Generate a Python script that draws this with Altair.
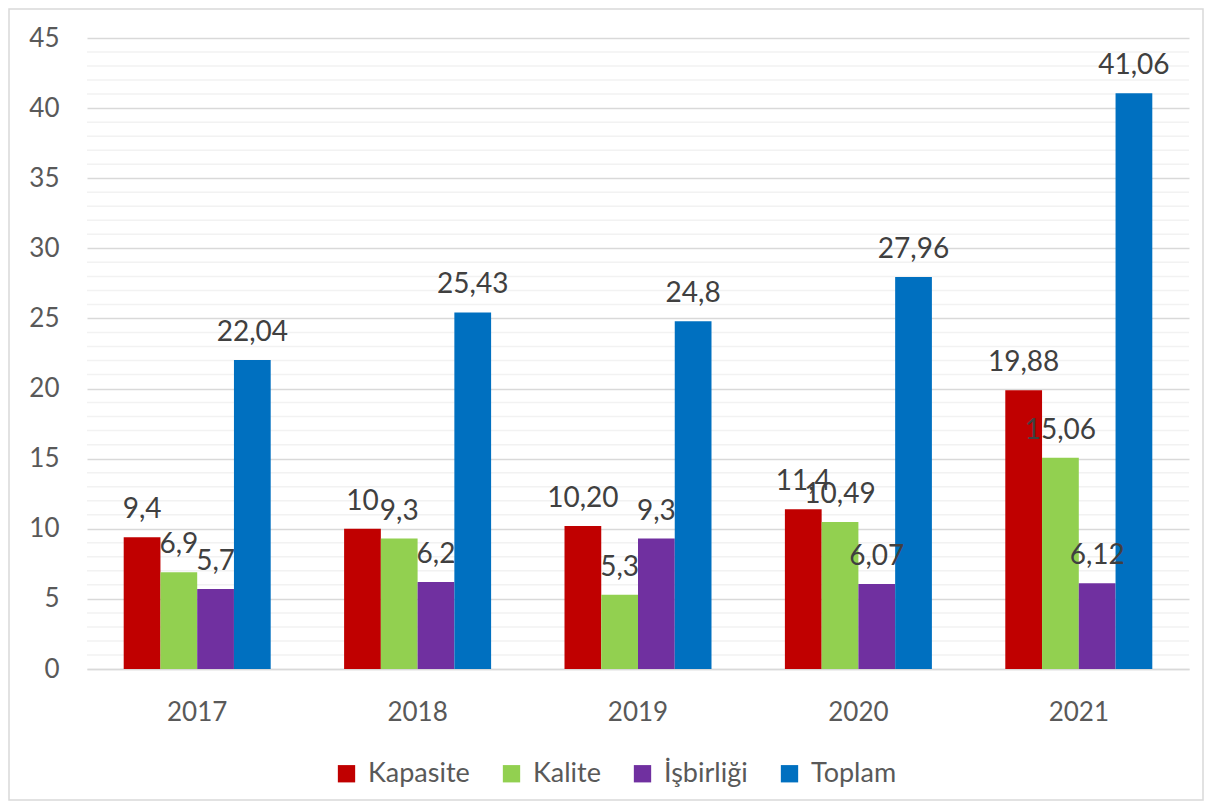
import altair as alt
import pandas as pd

years = ["2017", "2018", "2019", "2020", "2021"]
series = ["Kapasite", "Kalite", "İşbirliği", "Toplam"]
colors = ["#C00000", "#92D050", "#7030A0", "#0070C0"]

kapasite = [9.4, 10, 10.2, 11.4, 19.88]
kalite = [6.9, 9.3, 5.3, 10.49, 15.06]
isbirligi = [5.7, 6.2, 9.3, 6.07, 6.12]
toplam = [22.04, 25.43, 24.8, 27.96, 41.06]

kapasite_lbl = ["9,4", "10", "10,20", "11,4", "19,88"]
kalite_lbl = ["6,9", "9,3", "5,3", "10,49", "15,06"]
isbirligi_lbl = ["5,7", "6,2", "9,3", "6,07", "6,12"]
toplam_lbl = ["22,04", "25,43", "24,8", "27,96", "41,06"]

major_ticks = [0, 5, 10, 15, 20, 25, 30, 35, 40, 45]
minor_ticks = [v for v in range(1, 45) if v % 5 != 0]

rows = []
for s, vals, lbls in zip(series,
                         [kapasite, kalite, isbirligi, toplam],
                         [kapasite_lbl, kalite_lbl, isbirligi_lbl, toplam_lbl]):
    for y, v, l in zip(years, vals, lbls):
        rows.append({"year": y, "series": s, "value": v, "label": l})
df = pd.DataFrame(rows)

W, H = 1102, 631

x_enc = alt.X("year:N", sort=years,
              scale=alt.Scale(paddingInner=0.333, paddingOuter=0.1665),
              axis=alt.Axis(title=None, labelAngle=0, labelFontSize=26,
                            labelColor="#595959", labelPadding=30, ticks=False,
                            domainColor="#D9D9D9", domainWidth=1.5, grid=False))
xo_enc = alt.XOffset("series:N", sort=series)

y_scale = alt.Scale(domain=[0, 45], nice=False)
y_enc = alt.Y("value:Q", scale=y_scale,
              axis=alt.Axis(title=None, values=major_ticks, labelOverlap=False,
                            labelFontSize=26, labelColor="#595959",
                            labelPadding=28, ticks=False, domain=False,
                            gridColor="#D9D9D9", gridWidth=1.5,
                            minExtent=70, maxExtent=70))

minor = alt.Chart(pd.DataFrame({"v": minor_ticks})).mark_rule(
    color="#F2F2F2", strokeWidth=1.5).encode(
    y=alt.Y("v:Q", scale=y_scale))

base = alt.Chart(df)

bars = base.mark_bar().encode(
    x=x_enc,
    xOffset=xo_enc,
    y=y_enc,
    color=alt.Color("series:N", sort=series,
                    scale=alt.Scale(domain=series, range=colors),
                    legend=alt.Legend(title=None, orient="none", legendX=246,
                                      legendY=722, direction="horizontal",
                                      symbolType="square", symbolSize=300,
                                      symbolStrokeWidth=0, labelFontSize=27,
                                      labelColor="#595959", labelOffset=8,
                                      columnPadding=28)),
)

text = base.mark_text(baseline="alphabetic", dy=-19, fontSize=28,
                      color="#404040").encode(
    x=alt.X("year:N", sort=years),
    xOffset=xo_enc,
    y=alt.Y("value:Q"),
    text="label:N",
)

border = alt.Chart(pd.DataFrame({"a": [0]})).mark_rect(
    filled=False, stroke="#D9D9D9", strokeWidth=1.5).encode(
    x=alt.value(-78), x2=alt.value(1116), y=alt.value(-29), y2=alt.value(762))

chart = alt.layer(border, minor, bars, text).properties(
    width=W, height=H, padding=0, background="white"
).configure(font="Lato").configure_view(stroke="transparent")

chart.save("out.html", embed_options={"renderer": "svg", "actions": False})
